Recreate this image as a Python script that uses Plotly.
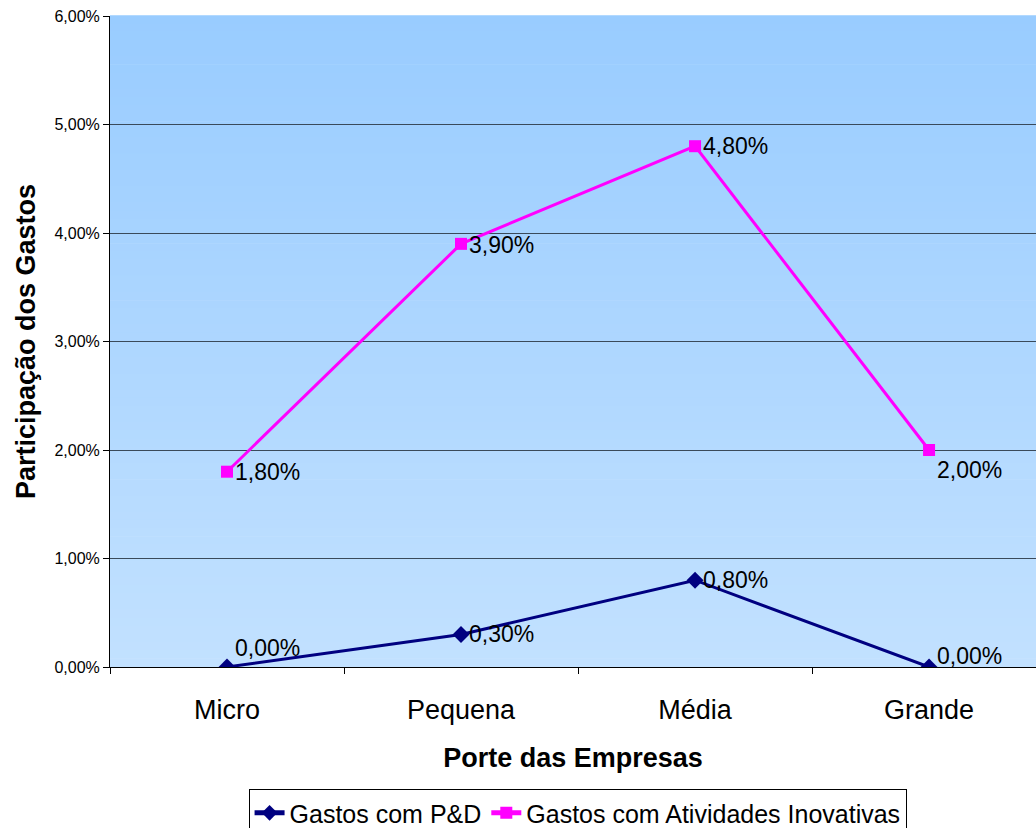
import plotly.graph_objects as go

# Firm sizes and spending share (% of revenue)
categorias = ["Micro", "Pequena", "Média", "Grande"]
gastos_pd = [0.00, 0.30, 0.80, 0.00]
gastos_inovativas = [1.80, 3.90, 4.80, 2.00]

nome_pd = "Gastos com P&D"
nome_inov = "Gastos com Atividades Inovativas"

FONT = "Liberation Sans, Arial, sans-serif"
NAVY = "#000080"
MAGENTA = "#FF00FF"


def fmt(v):
    return f"{v:.2f}%".replace(".", ",")


fig = go.Figure()

fig.add_trace(go.Scatter(
    x=categorias, y=gastos_pd, name=nome_pd, mode="lines+markers",
    line=dict(color=NAVY, width=3),
    marker=dict(symbol="diamond", size=13, color=NAVY),
))
fig.add_trace(go.Scatter(
    x=categorias, y=gastos_inovativas, name=nome_inov, mode="lines+markers",
    line=dict(color=MAGENTA, width=3),
    marker=dict(symbol="square", size=12, color=MAGENTA),
))

# Vertical gradient behind the plotting area
top = (153, 204, 255)
bottom = (194, 225, 255)
n = 80
shapes = []
for i in range(n):
    t = i / (n - 1)
    c = tuple(round(top[k] + (bottom[k] - top[k]) * t) for k in range(3))
    shapes.append(dict(
        type="rect", xref="paper", yref="paper", layer="below",
        x0=0, x1=1, y0=1 - (i + 1) / n, y1=1 - i / n + 0.001,
        fillcolor=f"rgb{c}", line=dict(width=0),
    ))

# Data labels to the right of each marker
annotations = []
shift_pd = [19, 0, 0, 11]
shift_inov = [0, -1, 0, -20]
for serie, shifts in ((gastos_pd, shift_pd), (gastos_inovativas, shift_inov)):
    for i, v in enumerate(serie):
        annotations.append(dict(
            x=i, y=v, xref="x", yref="y", text=fmt(v), showarrow=False,
            xanchor="left", yanchor="middle", xshift=6, yshift=shifts[i],
            font=dict(family=FONT, size=23, color="black"),
        ))

fig.update_layout(
    width=1036, height=828,
    margin=dict(l=110, r=0, t=16, b=161),
    paper_bgcolor="white",
    plot_bgcolor="rgba(0,0,0,0)",
    separators=",.",
    shapes=shapes,
    annotations=annotations,
    font=dict(family=FONT, color="black"),
    showlegend=True,
    legend=dict(
        orientation="h", xref="container", x=0.5575, xanchor="center",
        yref="container", y=0.047, yanchor="top",
        bordercolor="black", borderwidth=1, bgcolor="white",
        font=dict(family=FONT, size=25, color="black"),
        tracegroupgap=0, itemsizing="constant",
    ),
    xaxis=dict(
        type="category", range=[-0.5, 3.457],
        tickson="boundaries", ticks="outside", ticklen=6, tickcolor="black",
        ticklabelstandoff=19,
        showline=True, linecolor="black", linewidth=1,
        showgrid=False, zeroline=False,
        tickfont=dict(family=FONT, size=27, color="black"),
        title=dict(text="<b>Porte das Empresas</b>", standoff=23,
                   font=dict(family=FONT, size=27, color="black")),
    ),
    yaxis=dict(
        range=[0, 6], dtick=1, tick0=0, tickformat=".2f", ticksuffix="%",
        ticks="outside", ticklen=6, tickcolor="black",
        showline=True, linecolor="black", linewidth=1,
        showgrid=True, gridcolor="#3a4a5a", gridwidth=1, zeroline=False,
        tickfont=dict(family=FONT, size=16, color="black"),
        title=dict(text="<b>Participação dos Gastos</b>", standoff=10,
                   font=dict(family=FONT, size=27, color="black")),
    ),
)

fig.write_html("out.html")
